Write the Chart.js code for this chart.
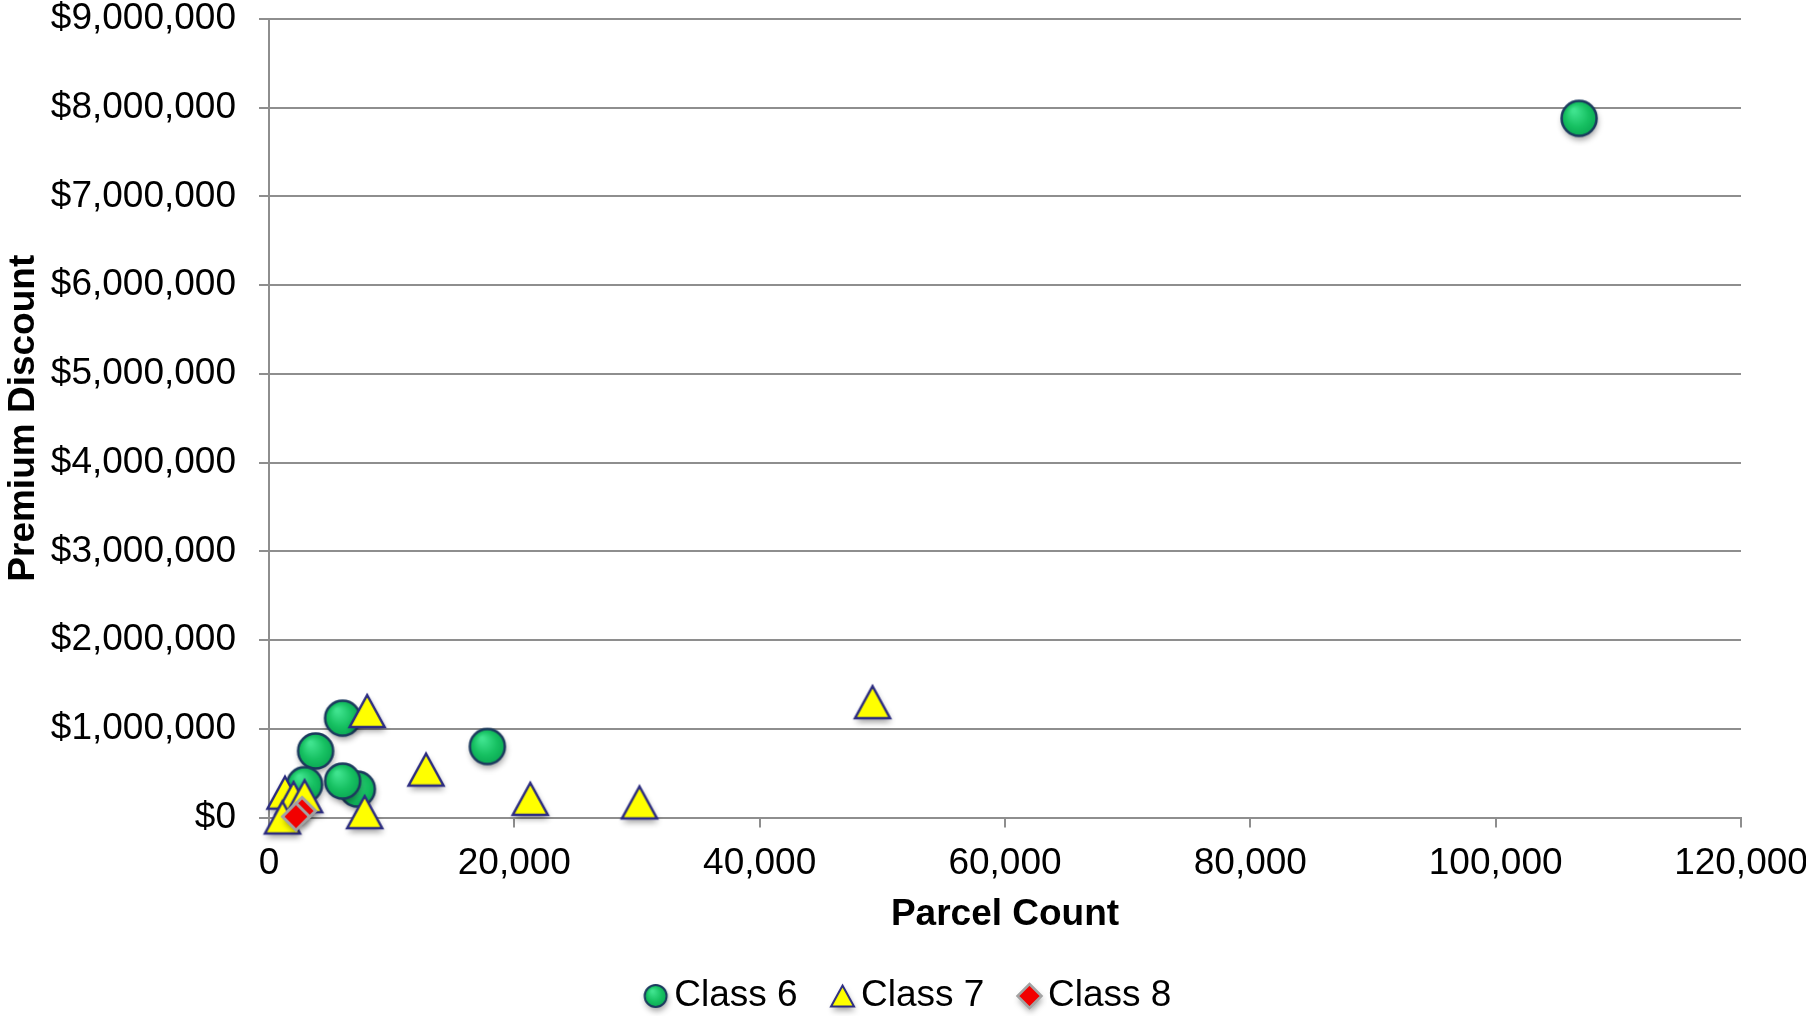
<!DOCTYPE html>
<html>
<head>
<meta charset="utf-8">
<script src="https://cdn.jsdelivr.net/npm/chart.js@4.4.0/dist/chart.umd.min.js"></script>
<style>
html,body{margin:0;padding:0;background:#fff;}
#wrap{width:1806px;height:1016px;position:relative;}
</style>
</head>
<body>
<div id="wrap"><canvas id="c"></canvas></div>
<script>
// ---- data ----
const seriesNames = ['Class 6', 'Class 7', 'Class 8'];
const class6X = [106800, 6000, 3800, 2900, 7200, 6000, 17800];
const class6Y = [7880000, 1120000, 750000, 370000, 320000, 410000, 800000];
const class7X = [8000, 12800, 21300, 7800, 30200, 49200, 1300, 2000, 2900, 1100];
const class7Y = [1200000, 540000, 210000, 60000, 170000, 1300000, 280000, 220000, 240000, 0];
const class8X = [2700, 2200];
const class8Y = [75000, 10000];
const xTickLabels = ['0', '20,000', '40,000', '60,000', '80,000', '100,000', '120,000'];
const yTickLabels = ['$0', '$1,000,000', '$2,000,000', '$3,000,000', '$4,000,000', '$5,000,000', '$6,000,000', '$7,000,000', '$8,000,000', '$9,000,000'];
const xAxisTitle = 'Parcel Count';
const yAxisTitle = 'Premium Discount';

// ---- marker images ----
function shadowOn(ctx){ctx.shadowColor='rgba(0,0,0,0.38)';ctx.shadowBlur=6;ctx.shadowOffsetX=1;ctx.shadowOffsetY=4;}
function drawCircle(ctx,cx,cy,r,lw){
  ctx.save();shadowOn(ctx);
  ctx.beginPath();ctx.arc(cx,cy,r,0,Math.PI*2);
  const g=ctx.createRadialGradient(cx-r*0.3,cy-r*0.45,r*0.1,cx,cy,r*1.05);
  g.addColorStop(0,'#3FE38E');g.addColorStop(0.6,'#17C162');g.addColorStop(1,'#0AA853');
  ctx.fillStyle=g;ctx.fill();ctx.restore();
  ctx.beginPath();ctx.arc(cx,cy,r,0,Math.PI*2);
  ctx.lineWidth=lw;ctx.strokeStyle='#1C3A5E';ctx.stroke();
}
function drawTriangle(ctx,cx,cy,hw,hh,lw){
  ctx.save();shadowOn(ctx);
  ctx.beginPath();ctx.moveTo(cx,cy-hh);ctx.lineTo(cx+hw,cy+hh);ctx.lineTo(cx-hw,cy+hh);ctx.closePath();
  ctx.fillStyle='#FFFF00';ctx.fill();ctx.restore();
  ctx.beginPath();ctx.moveTo(cx,cy-hh);ctx.lineTo(cx+hw,cy+hh);ctx.lineTo(cx-hw,cy+hh);ctx.closePath();
  ctx.lineJoin='miter';ctx.lineWidth=lw;ctx.strokeStyle='#2C2C80';ctx.stroke();
}
function drawDiamond(ctx,cx,cy,h,lw){
  ctx.save();shadowOn(ctx);
  ctx.beginPath();ctx.moveTo(cx,cy-h);ctx.lineTo(cx+h,cy);ctx.lineTo(cx,cy+h);ctx.lineTo(cx-h,cy);ctx.closePath();
  ctx.fillStyle='#F20000';ctx.fill();ctx.restore();
  ctx.beginPath();ctx.moveTo(cx,cy-h);ctx.lineTo(cx+h,cy);ctx.lineTo(cx,cy+h);ctx.lineTo(cx-h,cy);ctx.closePath();
  ctx.lineWidth=lw;ctx.strokeStyle='#A3A3A3';ctx.stroke();
}
function makeImg(w,h,fn){
  const c=document.createElement('canvas');c.width=w;c.height=h;
  fn(c.getContext('2d'));return c;
}
const pointImgs = [
  makeImg(56,56,ctx=>drawCircle(ctx,28,28,17.5,2.5)),
  makeImg(56,56,ctx=>drawTriangle(ctx,28,28,17.5,16,2.5)),
  makeImg(48,48,ctx=>drawDiamond(ctx,24,24,13.5,3))
];
// legend marker sits 22.5px right of the image centre (box width 45)
const legendImgs = [
  makeImg(80,40,ctx=>drawCircle(ctx,62.5,20,11,2)),
  makeImg(80,40,ctx=>drawTriangle(ctx,62.5,20,11.5,10.5,2)),
  makeImg(80,40,ctx=>drawDiamond(ctx,62.5,20,12,2.5))
];

function pts(xs,ys){return xs.map((x,i)=>({x:x,y:ys[i]}));}

Chart.defaults.font.family = '"Liberation Sans", Arial, sans-serif';
Chart.defaults.color = '#000';

const gridColor = '#8E8E8E';

const legendShift = {
  id: 'legendShift',
  afterLayout(chart) {
    const l = chart.legend;
    if (!l) return;
    l.top += 8.5; l.bottom += 8.5;
    l.left += 20.5; l.right += 20.5;
  }
};

new Chart(document.getElementById('c'), {
  type: 'scatter',
  plugins: [legendShift],
  data: {
    datasets: [
      {label: seriesNames[0], data: pts(class6X, class6Y), pointStyle: pointImgs[0], pointRadius: 18, order: 3, clip: false},
      {label: seriesNames[1], data: pts(class7X, class7Y), pointStyle: pointImgs[1], pointRadius: 18, order: 2, clip: false},
      {label: seriesNames[2], data: pts(class8X, class8Y), pointStyle: pointImgs[2], pointRadius: 14, order: 1, clip: false}
    ]
  },
  options: {
    responsive: true,
    maintainAspectRatio: false,
    animation: false,
    events: [],
    layout: {padding: {top: 19, right: 65, left: 0, bottom: 0}},
    plugins: {
      tooltip: {enabled: false},
      legend: {
        position: 'bottom',
        labels: {
          usePointStyle: true,
          pointStyleWidth: 45,
          padding: 0,
          font: {size: 37},
          color: '#000',
          generateLabels: () => seriesNames.map((n, i) => ({
            text: n, pointStyle: legendImgs[i], fillStyle: 'rgba(0,0,0,0)',
            strokeStyle: 'rgba(0,0,0,0)', lineWidth: 0, hidden: false, datasetIndex: i, fontColor: '#000'
          }))
        }
      }
    },
    scales: {
      x: {
        type: 'linear',
        min: 0, max: 120000,
        ticks: {stepSize: 20000, padding: 14, font: {size: 37}, color: '#000',
          callback: (v) => { const i = Math.round(v / 20000); return xTickLabels[i]; }},
        grid: {drawOnChartArea: false, drawTicks: true, tickLength: 10, color: gridColor, lineWidth: 2},
        border: {display: true, color: gridColor, width: 2},
        title: {display: true, text: xAxisTitle, font: {size: 37, weight: 'bold'}, color: '#000', padding: {top: 32, bottom: 32}},
        afterFit: (s) => { s.height = 151.5; s.paddingLeft = 0; s.paddingRight = 0; }
      },
      y: {
        type: 'linear',
        min: 0, max: 9000000,
        ticks: {stepSize: 1000000, padding: 23, font: {size: 37}, color: '#000',
          callback: (v) => { const i = Math.round(v / 1000000); return yTickLabels[i]; }},
        grid: {drawOnChartArea: true, drawTicks: true, tickLength: 10, color: gridColor, lineWidth: 2},
        border: {display: true, color: gridColor, width: 2},
        title: {display: true, text: yAxisTitle, font: {size: 37, weight: 'bold'}, color: '#000', padding: {top: 2, bottom: 2}},
        afterFit: (s) => { s.width = 269; s.paddingTop = 0; s.paddingBottom = 0; }
      }
    }
  }
});
</script>
</body>
</html>
